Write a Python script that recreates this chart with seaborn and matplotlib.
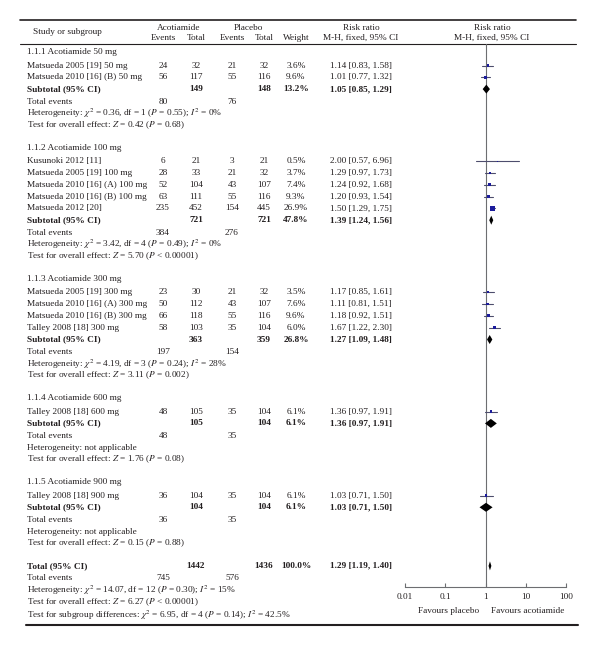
import numpy as np
import matplotlib
matplotlib.use("Agg")
import matplotlib.pyplot as plt
import seaborn as sns

sns.set_theme(style="white")
plt.rcParams['font.family'] = ['Liberation Serif', 'DejaVu Serif']
plt.rcParams['mathtext.fontset'] = 'stix'

# ---- data ----
group_titles = ["1.1.1 Acotiamide 50 mg", "1.1.2 Acotiamide 100 mg", "1.1.3 Acotiamide 300 mg",
                "1.1.4 Acotiamide 600 mg", "1.1.5 Acotiamide 900 mg"]

study_names = ["Matsueda 2005 [19] 50 mg", "Matsueda 2010 [16] (B) 50 mg",
               "Kusunoki 2012 [11]", "Matsueda 2005 [19] 100 mg", "Matsueda 2010 [16] (A) 100 mg",
               "Matsueda 2010 [16] (B) 100 mg", "Matsueda 2012 [20]",
               "Matsueda 2005 [19] 300 mg", "Matsueda 2010 [16] (A) 300 mg",
               "Matsueda 2010 [16] (B) 300 mg", "Talley 2008 [18] 300 mg",
               "Talley 2008 [18] 600 mg", "Talley 2008 [18] 900 mg"]
study_group = [0, 0, 1, 1, 1, 1, 1, 2, 2, 2, 2, 3, 4]
acot_events = [24, 56, 6, 28, 52, 63, 235, 23, 50, 66, 58, 48, 36]
acot_total = [32, 117, 21, 33, 104, 111, 452, 30, 112, 118, 103, 105, 104]
plac_events = [21, 55, 3, 21, 43, 55, 154, 21, 43, 55, 35, 35, 35]
plac_total = [32, 116, 21, 32, 107, 116, 445, 32, 107, 116, 104, 104, 104]
weights = [3.6, 9.6, 0.5, 3.7, 7.4, 9.3, 26.9, 3.5, 7.6, 9.6, 6.0, 6.1, 6.1]
rr = [1.14, 1.01, 2.00, 1.29, 1.24, 1.20, 1.50, 1.17, 1.11, 1.18, 1.67, 1.36, 1.03]
rr_lo = [0.83, 0.77, 0.57, 0.97, 0.92, 0.93, 1.29, 0.85, 0.81, 0.92, 1.22, 0.97, 0.71]
rr_hi = [1.58, 1.32, 6.96, 1.73, 1.68, 1.54, 1.75, 1.61, 1.51, 1.51, 2.30, 1.91, 1.50]

sub_acot_total = [149, 721, 363, 105, 104]
sub_plac_total = [148, 721, 359, 104, 104]
sub_weight = [13.2, 47.8, 26.8, 6.1, 6.1]
sub_rr = [1.05, 1.39, 1.27, 1.36, 1.03]
sub_lo = [0.85, 1.24, 1.09, 0.97, 0.71]
sub_hi = [1.29, 1.56, 1.48, 1.91, 1.50]
sub_acot_events = [80, 384, 197, 48, 36]
sub_plac_events = [76, 276, 154, 35, 35]
sub_chi2 = ["0.36", "3.42", "4.19", None, None]
sub_df = ["1", "4", "3", None, None]
sub_p_het = ["= 0.55", "= 0.49", "= 0.24", None, None]
sub_i2 = ["0%", "0%", "28%", None, None]
sub_z = ["0.42", "5.70", "3.11", "1.76", "0.15"]
sub_p = ["= 0.68", "< 0.00001", "= 0.002", "= 0.08", "= 0.88"]

tot_acot_total, tot_plac_total = 1442, 1436
tot_weight = 100.0
tot_rr, tot_lo, tot_hi = 1.29, 1.19, 1.40
tot_acot_events, tot_plac_events = 745, 576
tot_het = ("14.07", "12", "= 0.30", "15%")
tot_z, tot_p = "6.27", "< 0.00001"
subgroup_test = ("6.95", "4", "= 0.14", "42.5%")

axis_ticks = [0.01, 0.1, 1, 10, 100]
axis_labels = ["0.01", "0.1", "1", "10", "100"]

# ---- layout (pixels) ----
W, H = 600, 647
FS = 6.7
X_NAME, X_AE, X_AT, X_PE, X_PT, X_W, X_RR = 27, 163, 196, 232, 264, 296, 361
STEP = 11.8

fig = plt.figure(figsize=(W / 100, H / 100), dpi=100)
bg = fig.add_axes([0, 0, 1, 1])
bg.set_xlim(0, W)
bg.set_ylim(H, 0)
bg.axis('off')

ax_l, ax_r, ax_top, ax_bot = 405, 566, 44, 587
fa = fig.add_axes([ax_l / W, 1 - ax_bot / H, (ax_r - ax_l) / W, (ax_bot - ax_top) / H])
fa.set_xscale('log')
fa.set_xlim(0.01, 100)
fa.set_ylim(ax_bot, ax_top)
fa.patch.set_alpha(0)


def txt(x, y, s, ha='center', bold=False):
    bg.text(x, y, s, ha=ha, va='center', fontsize=FS, color='#231f20',
            fontweight='bold' if bold else 'normal')


def het_str(chi2, df, p, i2):
    return (r"Heterogeneity: $\chi^2$ = " + chi2 + ", df = " + df +
            " ($P$ " + p + "); $I^2$ = " + i2)


# header
bg.plot([20, 576], [20, 20], color='#231f20', lw=1.2)
bg.plot([20, 576], [44, 44], color='#231f20', lw=0.8)
txt(33, 32, "Study or subgroup", ha='left')
txt(179, 28, "Acotiamide")
txt(248, 28, "Placebo")
for x, s in [(X_AE, "Events"), (X_AT, "Total"), (X_PE, "Events"), (X_PT, "Total"), (X_W, "Weight")]:
    txt(x, 38, s)
txt(X_RR, 28, "Risk ratio")
txt(X_RR, 38, "M-H, fixed, 95% CI")
txt(492, 28, "Risk ratio")
txt(492, 38, "M-H, fixed, 95% CI")

study_y = []
sub_y = []
y = 52
for g in range(len(group_titles)):
    txt(X_NAME, y, group_titles[g], ha='left')
    y += 13.5
    for i in [k for k, gg in enumerate(study_group) if gg == g]:
        txt(X_NAME, y, study_names[i], ha='left')
        txt(X_AE, y, str(acot_events[i]))
        txt(X_AT, y, str(acot_total[i]))
        txt(X_PE, y, str(plac_events[i]))
        txt(X_PT, y, str(plac_total[i]))
        txt(X_W, y, f"{weights[i]:.1f}%")
        txt(X_RR, y, f"{rr[i]:.2f} [{rr_lo[i]:.2f}, {rr_hi[i]:.2f}]")
        study_y.append(y)
        y += STEP
    txt(X_NAME, y, "Subtotal (95% CI)", ha='left', bold=True)
    txt(X_AT, y, str(sub_acot_total[g]), bold=True)
    txt(X_PT, y, str(sub_plac_total[g]), bold=True)
    txt(X_W, y, f"{sub_weight[g]:.1f}%", bold=True)
    txt(X_RR, y, f"{sub_rr[g]:.2f} [{sub_lo[g]:.2f}, {sub_hi[g]:.2f}]", bold=True)
    sub_y.append(y)
    y += 12.5
    txt(X_NAME, y, "Total events", ha='left')
    txt(X_AE, y, str(sub_acot_events[g]))
    txt(X_PE, y, str(sub_plac_events[g]))
    y += STEP
    if sub_chi2[g] is None:
        txt(X_NAME, y, "Heterogeneity: not applicable", ha='left')
    else:
        txt(X_NAME, y, het_str(sub_chi2[g], sub_df[g], sub_p_het[g], sub_i2[g]), ha='left')
    y += STEP
    txt(X_NAME, y, f"Test for overall effect: $Z$ = {sub_z[g]} ($P$ {sub_p[g]})", ha='left')
    y += 22.5

# overall total
total_y = y
txt(X_NAME, y, "Total (95% CI)", ha='left', bold=True)
txt(X_AT, y, str(tot_acot_total), bold=True)
txt(X_PT, y, str(tot_plac_total), bold=True)
txt(X_W, y, f"{tot_weight:.1f}%", bold=True)
txt(X_RR, y, f"{tot_rr:.2f} [{tot_lo:.2f}, {tot_hi:.2f}]", bold=True)
y += 12.5
txt(X_NAME, y, "Total events", ha='left')
txt(X_AE, y, str(tot_acot_events))
txt(X_PE, y, str(tot_plac_events))
y += STEP
txt(X_NAME, y, het_str(*tot_het), ha='left')
y += STEP
txt(X_NAME, y, f"Test for overall effect: $Z$ = {tot_z} ($P$ {tot_p})", ha='left')
y += 13.5
txt(X_NAME, y, r"Test for subgroup differences: $\chi^2$ = " + subgroup_test[0] + ", df = " +
    subgroup_test[1] + " ($P$ " + subgroup_test[2] + "); $I^2$ = " + subgroup_test[3], ha='left')

bg.plot([26, 578], [625, 625], color='#231f20', lw=1.5)

# ---- forest plot ----
fa.axvline(1, color='#6d6e71', lw=0.8)
for i in range(len(rr)):
    fa.plot([rr_lo[i], rr_hi[i]], [study_y[i], study_y[i]], color='#4d4d6d', lw=0.8)
sizes = [0.45 * w + 0.6 for w in weights]
sns.scatterplot(x=rr, y=study_y, s=sizes, marker='s', color='#1c1c9c', linewidth=0,
                ax=fa, legend=False, zorder=3)

dh = 4.5
for g in range(len(sub_rr)):
    yy = sub_y[g]
    fa.fill([sub_lo[g], sub_rr[g], sub_hi[g], sub_rr[g]], [yy, yy - dh, yy, yy + dh],
            color='black', lw=0, zorder=3)
fa.fill([tot_lo, tot_rr, tot_hi, tot_rr], [total_y, total_y - dh, total_y, total_y + dh],
        color='black', lw=0, zorder=3)

for sp in ['top', 'left', 'right']:
    fa.spines[sp].set_visible(False)
fa.spines['bottom'].set_color('#6d6e71')
fa.spines['bottom'].set_linewidth(0.8)
fa.set_yticks([])
fa.set_xticks(axis_ticks)
fa.set_xticklabels(axis_labels)
fa.minorticks_off()
fa.tick_params(axis='x', direction='in', length=3, width=0.8, color='#6d6e71',
               labelsize=FS, pad=4.5, bottom=True, labelcolor='#231f20')
fa.grid(False)

txt(449, 611, "Favours placebo")
txt(528, 611, "Favours acotiamide")

fig.savefig("out.png", dpi=100)
